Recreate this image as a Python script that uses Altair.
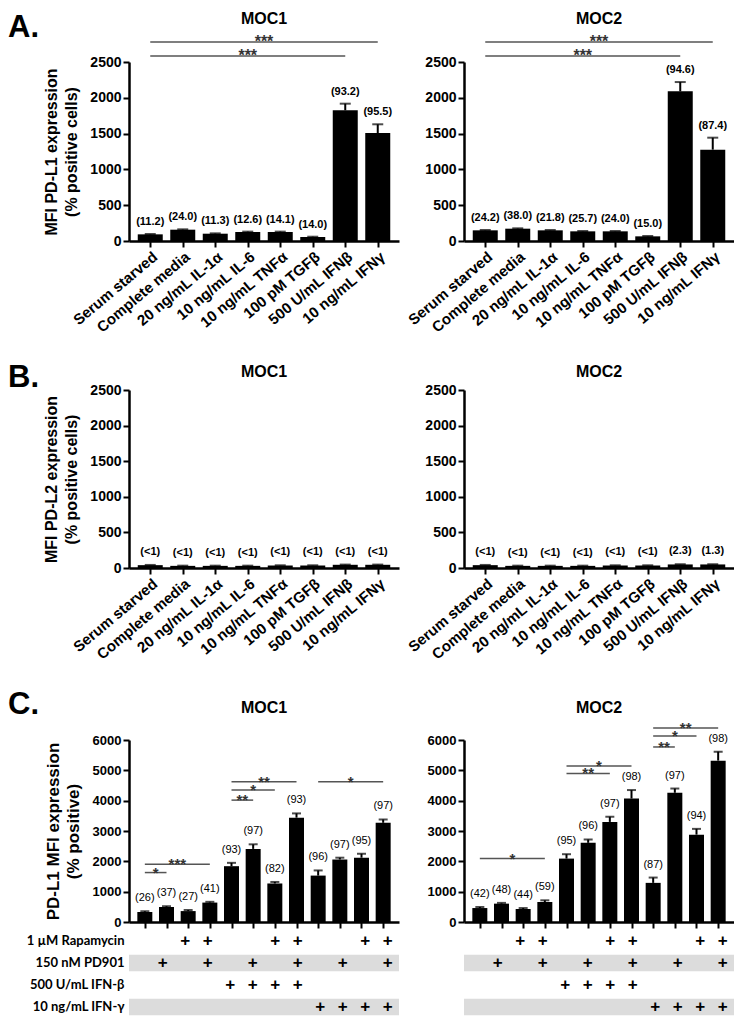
import json
import altair as alt
import pandas as pd

FONT = "Liberation Sans"
TFONT = "Lato"

# ---------------- data ----------------
cats_ab = ["Serum starved", "Complete media", "20 ng/mL IL-1α", "10 ng/mL IL-6",
           "10 ng/mL TNFα", "100 pM TGFβ", "500 U/mL IFNβ", "10 ng/mL IFNγ"]

# Panel A (PD-L1)
a_moc1_mfi = [93, 158, 102, 126, 126, 56, 1825, 1508]
a_moc1_err = [98, 163, 107, 131, 131, 60, 1918, 1630]
a_moc1_pct = ["(11.2)", "(24.0)", "(11.3)", "(12.6)", "(14.1)", "(14.0)", "(93.2)", "(95.5)"]
a_moc2_mfi = [149, 172, 149, 135, 135, 65, 2090, 1276]
a_moc2_err = [154, 177, 154, 140, 140, 70, 2220, 1443]
a_moc2_pct = ["(24.2)", "(38.0)", "(21.8)", "(25.7)", "(24.0)", "(15.0)", "(94.6)", "(87.4)"]
a_sig_start = [0, 0]
a_sig_end = [7, 6]
a_sig_val = [2780, 2584]
a_sig_txt = ["***", "***"]

# Panel B (PD-L2)
b_moc1_mfi = [40, 30, 30, 30, 35, 35, 45, 45]
b_moc1_err = [43, 33, 33, 33, 38, 38, 48, 48]
b_moc1_pct = ["(<1)", "(<1)", "(<1)", "(<1)", "(<1)", "(<1)", "(<1)", "(<1)"]
b_moc2_mfi = [40, 30, 30, 30, 35, 35, 50, 50]
b_moc2_err = [43, 33, 33, 33, 38, 38, 53, 53]
b_moc2_pct = ["(<1)", "(<1)", "(<1)", "(<1)", "(<1)", "(<1)", "(2.3)", "(1.3)"]

# Panel C (PD-L1 with inhibitors)
c_moc1_mfi = [330, 495, 360, 640, 1840, 2410, 1270, 3440, 1530, 2060, 2120, 3270]
c_moc1_err = [355, 520, 395, 665, 1950, 2560, 1320, 3580, 1700, 2120, 2250, 3380]
c_moc1_pct = ["(26)", "(37)", "(27)", "(41)", "(93)", "(97)", "(82)", "(93)", "(96)", "(97)", "(95)", "(97)"]
c_moc1_sig_start = [0, 0, 4, 4, 4, 8]
c_moc1_sig_end = [1, 3, 5, 6, 7, 11]
c_moc1_sig_val = [1630, 1905, 4018, 4349, 4624, 4624]
c_moc1_sig_txt = ["*", "***", "**", "*", "**", "*"]

c_moc2_mfi = [460, 605, 430, 660, 2090, 2610, 3300, 4070, 1290, 4260, 2880, 5320]
c_moc2_err = [495, 630, 460, 715, 2235, 2720, 3470, 4350, 1465, 4400, 3070, 5615]
c_moc2_pct = ["(42)", "(48)", "(44)", "(59)", "(95)", "(96)", "(97)", "(98)", "(87)", "(97)", "(94)", "(98)"]
c_moc2_sig_start = [0, 4, 4, 8, 8, 8]
c_moc2_sig_end = [3, 6, 7, 9, 10, 11]
c_moc2_sig_val = [2092, 4899, 5141, 5770, 6132, 6396]
c_moc2_sig_txt = ["*", "**", "*", "**", "*", "**"]

# Treatment table
tbl_rows = ["1 µM Rapamycin", "150 nM PD901", "500 U/mL IFN-β", "10 ng/mL IFN-γ"]
tbl_rapamycin = [0, 0, 1, 1, 0, 0, 1, 1, 0, 0, 1, 1]
tbl_pd901 = [0, 1, 0, 1, 0, 1, 0, 1, 0, 1, 0, 1]
tbl_ifnb = [0, 0, 0, 0, 1, 1, 1, 1, 0, 0, 0, 0]
tbl_ifng = [0, 0, 0, 0, 0, 0, 0, 0, 1, 1, 1, 1]
tbl_shaded = [False, True, False, True]

# ---------------- layout constants ----------------
W = 270
LEFT_ANCHOR = -121
RIGHT_ANCHOR = -65
LETTER_SIZE = 31


def label_expr(cats):
    return "[" + ",".join(json.dumps(c, ensure_ascii=False) for c in cats) + "][datum.value]"


def text_layer(txt, x, y, size, align="left", baseline="alphabetic", opacity=1.0):
    return alt.Chart(alt.Data(values=[{"t": txt}])).mark_text(
        font=FONT, fontSize=size, fontWeight="bold", align=align, baseline=baseline,
        color="black", opacity=opacity
    ).encode(x=alt.value(x), y=alt.value(y), text="t:N")


def bar_panel(mfi, err, pct, sig, *, cats, title, letter, left, ymax, ystep, ytitle,
              height, bar_w, cap_w, lbl_size, lbl_weight, lbl_dy, letter_y, title_y,
              star_size, ytitle_size, ytick_size):
    n = len(mfi)
    df = pd.DataFrame({"idx": list(range(n)), "mfi": mfi, "err": err, "pct": pct})
    xscale = alt.Scale(domain=[-0.5, n - 0.5], nice=False, zero=False)
    yscale = alt.Scale(domain=[0, ymax], nice=False, zero=True)
    if cats is not None:
        xaxis = alt.Axis(values=list(range(n)), labelExpr=label_expr(cats), labelAngle=-40,
                         labelFontSize=15, title=None, labelPadding=2, labelFlush=False,
                         labelOverlap=False)
    else:
        xaxis = alt.Axis(values=list(range(n)), labels=False, title=None)
    ykw = dict(values=list(range(0, ymax + 1, ystep)), format="d", labelFontSize=ytick_size,
               labelPadding=2, labelOverlap=False, labelFlush=False)
    if left:
        yaxis = alt.Axis(title=ytitle, titleFontSize=ytitle_size, titleLineHeight=20,
                         titlePadding=10, **ykw)
    else:
        yaxis = alt.Axis(title=None, **ykw)

    def X(f):
        return alt.X(f, scale=xscale, axis=xaxis)

    def Y(f):
        return alt.Y(f, scale=yscale, axis=yaxis)

    base = alt.Chart(df)
    bars = base.mark_bar(orient="vertical", size=bar_w, color="black").encode(
        x=X("idx:Q"), y=Y("mfi:Q"))
    errs = base.mark_rule(color="black", strokeWidth=2).encode(
        x=X("idx:Q"), y=Y("err:Q"), y2="mfi:Q")
    caps = base.mark_tick(orient="horizontal", size=cap_w, thickness=2, color="black").encode(
        x=X("idx:Q"), y=Y("err:Q"))
    labels = base.mark_text(font=FONT, fontSize=lbl_size, fontWeight=lbl_weight,
                            baseline="bottom", dy=lbl_dy, color="black").encode(
        x=X("idx:Q"), y=Y("err:Q"), text="pct:N")
    layers = [bars, errs, caps, labels]
    if sig is not None:
        s, e, v, t = sig
        sdf = pd.DataFrame({"s": s, "e": e, "v": v, "t": t})
        sdf["m"] = (sdf["s"] + sdf["e"]) / 2
        sb = alt.Chart(sdf)
        layers.append(sb.mark_rule(color="#555555", strokeWidth=1.5).encode(
            x=X("s:Q"), x2="e:Q", y=Y("v:Q")))
        layers.append(sb.mark_text(font=FONT, fontSize=star_size, fontWeight="bold",
                                   baseline="alphabetic", dy=5, color="#333333").encode(
            x=X("m:Q"), y=Y("v:Q"), text="t:N"))
    layers.append(text_layer(title, W / 2, title_y, 16, align="center"))
    if left:
        layers.append(text_layer(letter, LEFT_ANCHOR, letter_y, LETTER_SIZE))
    else:
        layers.append(text_layer(letter, RIGHT_ANCHOR, letter_y, LETTER_SIZE, opacity=0.0))
    return alt.layer(*layers).properties(width=W, height=height)


def table_panel(left, height=88):
    flags = [tbl_rapamycin, tbl_pd901, tbl_ifnb, tbl_ifng]
    recs = []
    for r, fl in zip(tbl_rows, flags):
        for i, f in enumerate(fl):
            if f:
                recs.append({"row": r, "idx": i})
    plus_df = pd.DataFrame(recs)
    band_df = pd.DataFrame({"row": [r for r, s in zip(tbl_rows, tbl_shaded) if s]})
    yscale = alt.Scale(domain=tbl_rows, paddingInner=0.25, paddingOuter=0.125)
    xscale = alt.Scale(domain=[-0.5, 11.5], nice=False, zero=False)
    if left:
        yaxis = alt.Axis(title=None, domain=False, ticks=False, labelFont=TFONT,
                         labelFontSize=13, labelFontWeight="bold", labelPadding=5,
                         labelColor="black")
    else:
        yaxis = None
    bands = alt.Chart(band_df).mark_rect(color="#dcdcdc").encode(
        y=alt.Y("row:N", scale=yscale, axis=yaxis))
    plus = alt.Chart(plus_df).mark_text(text="+", font=FONT, fontSize=17, fontWeight="bold",
                                        baseline="middle", color="black").encode(
        x=alt.X("idx:Q", scale=xscale, axis=None),
        y=alt.Y("row:N", scale=yscale, axis=yaxis))
    anchor = text_layer("C.", LEFT_ANCHOR if left else RIGHT_ANCHOR, height / 2,
                        LETTER_SIZE, baseline="middle", opacity=0.0)
    return alt.layer(bands, plus, anchor).properties(width=W, height=height)


A_KW = dict(cats=cats_ab, ymax=2500, ystep=500, height=179, bar_w=25, cap_w=11,
            lbl_size=11, lbl_weight="bold", lbl_dy=-7, letter_y=-25, title_y=-38,
            star_size=16, ytitle_size=16, ytick_size=14)
B_KW = dict(A_KW, height=178, letter_y=-3, title_y=-13, lbl_dy=-8)
C_KW = dict(cats=None, ymax=6000, ystep=1000, height=182, bar_w=15, cap_w=9,
            lbl_size=11, lbl_weight="normal", lbl_dy=-8, letter_y=-26, title_y=-27,
            star_size=15, ytitle_size=17, ytick_size=13)

a1 = bar_panel(a_moc1_mfi, a_moc1_err, a_moc1_pct, (a_sig_start, a_sig_end, a_sig_val, a_sig_txt),
               title="MOC1", letter="A.", left=True,
               ytitle=["MFI PD-L1 expression", "(% positive cells)"], **A_KW)
a2 = bar_panel(a_moc2_mfi, a_moc2_err, a_moc2_pct, (a_sig_start, a_sig_end, a_sig_val, a_sig_txt),
               title="MOC2", letter="A.", left=False, ytitle=None, **A_KW)
b1 = bar_panel(b_moc1_mfi, b_moc1_err, b_moc1_pct, None, title="MOC1", letter="B.", left=True,
               ytitle=["MFI PD-L2 expression", "(% positive cells)"], **B_KW)
b2 = bar_panel(b_moc2_mfi, b_moc2_err, b_moc2_pct, None, title="MOC2", letter="B.", left=False,
               ytitle=None, **B_KW)
c1 = bar_panel(c_moc1_mfi, c_moc1_err, c_moc1_pct,
               (c_moc1_sig_start, c_moc1_sig_end, c_moc1_sig_val, c_moc1_sig_txt),
               title="MOC1", letter="C.", left=True,
               ytitle=["PD-L1 MFI expression", "(% positive)"], **C_KW)
c2 = bar_panel(c_moc2_mfi, c_moc2_err, c_moc2_pct,
               (c_moc2_sig_start, c_moc2_sig_end, c_moc2_sig_val, c_moc2_sig_txt),
               title="MOC2", letter="C.", left=False, ytitle=None, **C_KW)
t1 = table_panel(True)
t2 = table_panel(False)

row_a = alt.hconcat(a1, a2, spacing=0)
row_b = alt.hconcat(b1, b2, spacing=0)
row_c = alt.hconcat(alt.vconcat(c1, t1, spacing=1), alt.vconcat(c2, t2, spacing=1), spacing=0)

chart = alt.vconcat(row_a, row_b, row_c, spacing=27).properties(
    padding={"top": 3, "left": 0, "right": 0, "bottom": 0}, background="white"
).configure_view(stroke=None).configure_axis(
    grid=False, domainColor="black", domainWidth=2.5, tickColor="black", tickWidth=2,
    tickSize=6, labelColor="black", labelFont=FONT, labelFontWeight="bold",
    titleFont=FONT, titleFontWeight="bold", titleColor="black"
)

chart.save("out.html", embed_options={"renderer": "svg", "actions": False})
